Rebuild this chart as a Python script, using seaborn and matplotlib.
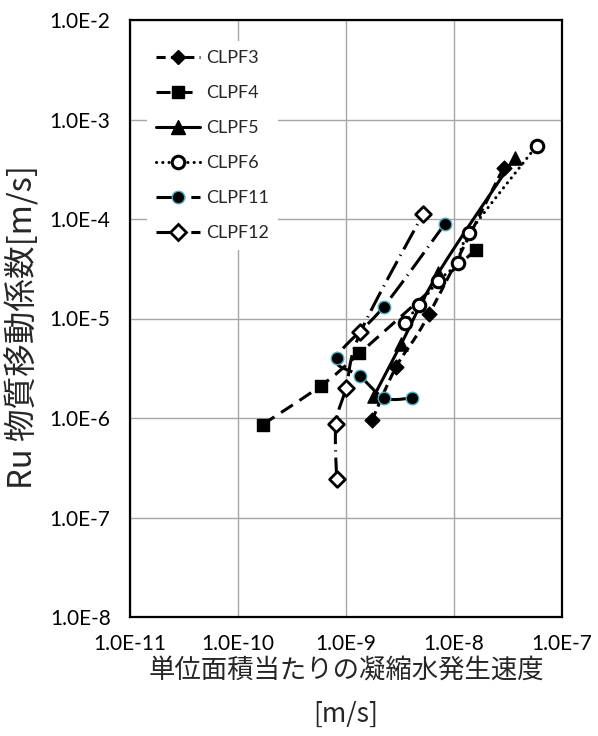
import numpy as np
import pandas as pd
import matplotlib
matplotlib.use("Agg")
import matplotlib.pyplot as plt
from matplotlib.lines import Line2D
from matplotlib.ticker import FixedLocator, FixedFormatter, NullLocator
import seaborn as sns

# ---- data -------------------------------------------------------------
series_names = ["CLPF3", "CLPF4", "CLPF5", "CLPF6", "CLPF11", "CLPF12"]

clpf3_rate = [1.75e-9, 2.92e-9, 5.91e-9, 2.88e-8]
clpf3_coef = [9.6e-7, 3.28e-6, 1.12e-5, 3.28e-4]

clpf4_rate = [1.69e-10, 5.85e-10, 1.33e-9, 1.585e-8]
clpf4_coef = [8.6e-7, 2.11e-6, 4.46e-6, 4.88e-5]

clpf5_rate = [1.82e-9, 3.25e-9, 7.18e-9, 3.66e-8]
clpf5_coef = [1.67e-6, 5.58e-6, 2.88e-5, 4.13e-4]

clpf6_rate = [3.50e-9, 4.78e-9, 7.18e-9, 1.08e-8, 1.39e-8, 5.85e-8]
clpf6_coef = [9.08e-6, 1.38e-5, 2.40e-5, 3.64e-5, 7.28e-5, 5.46e-4]

clpf11_rate = [4.09e-9, 2.27e-9, 1.35e-9, 8.25e-10, 2.24e-9, 8.2e-9]
clpf11_coef = [1.59e-6, 1.59e-6, 2.64e-6, 4.04e-6, 1.32e-5, 8.9e-5]

clpf12_rate = [8.19e-10, 8.07e-10, 1.0e-9, 1.36e-9, 5.16e-9]
clpf12_coef = [2.44e-7, 8.7e-7, 2.0e-6, 7.25e-6, 1.12e-4]

x_ticks = [1e-11, 1e-10, 1e-9, 1e-8, 1e-7]
x_tick_labels = ["1.0E-11", "1.0E-10", "1.0E-9", "1.0E-8", "1.0E-7"]
y_ticks = [1e-8, 1e-7, 1e-6, 1e-5, 1e-4, 1e-3, 1e-2]
y_tick_labels = ["1.0E-8", "1.0E-7", "1.0E-6", "1.0E-5", "1.0E-4", "1.0E-3", "1.0E-2"]

x_label = "単位面積当たりの凝縮水発生速度\n[m/s]"
y_label = "Ru 物質移動係数[m/s]"

frames = []
for name, xs, ys in zip(
    series_names,
    [clpf3_rate, clpf4_rate, clpf5_rate, clpf6_rate, clpf11_rate, clpf12_rate],
    [clpf3_coef, clpf4_coef, clpf5_coef, clpf6_coef, clpf11_coef, clpf12_coef],
):
    frames.append(pd.DataFrame({"series": name, "rate": xs, "coef": ys,
                                "order": range(len(xs))}))
df = pd.concat(frames, ignore_index=True)

# ---- styles -----------------------------------------------------------
LW = 2.2
styles = {
    "CLPF3": dict(ls=(0, (3.0, 1.7)), marker="D", ms=7.5, mfc="black", mec="black", mew=1.0),
    "CLPF4": dict(ls=(0, (4.6, 2.6)), marker="s", ms=9.0, mfc="black", mec="black", mew=1.0),
    "CLPF5": dict(ls="-", marker="^", ms=9.5, mfc="black", mec="black", mew=1.0),
    "CLPF6": dict(ls=(0, (0.05, 2.0)), marker="o", ms=9.0, mfc="white", mec="black", mew=2.2),
    "CLPF11": dict(ls=(0, (7.0, 2.0, 0.4, 2.0)), marker="o", ms=9.0, mfc="black", mec="#4bacc6", mew=1.0),
    "CLPF12": dict(ls=(0, (7.0, 2.0, 0.4, 2.0)), marker="D", ms=8.0, mfc="white", mec="black", mew=2.0),
}


def smooth_path(xs, ys, n=30):
    """Smoothed connecting curve (cubic Bezier / Catmull-Rom) in log space."""
    lx, ly = np.log10(xs), np.log10(ys)
    P = np.column_stack([lx, ly])
    if len(P) < 3:
        return xs, ys
    ext = np.vstack([P[0], P, P[-1]])
    out = []
    t = np.linspace(0, 1, n)[:, None]
    for i in range(1, len(ext) - 2):
        p0, p1, p2, p3 = ext[i - 1], ext[i], ext[i + 1], ext[i + 2]
        c1 = p1 + (p2 - p0) / 6.0
        c2 = p2 - (p3 - p1) / 6.0
        seg = ((1 - t) ** 3) * p1 + 3 * ((1 - t) ** 2) * t * c1 + 3 * (1 - t) * t ** 2 * c2 + t ** 3 * p2
        out.append(seg if i == 1 else seg[1:])
    out = np.vstack(out)
    return 10 ** out[:, 0], 10 ** out[:, 1]


# ---- figure -----------------------------------------------------------
sns.set_theme(style="white")
plt.rcParams["font.family"] = ["Lato", "Noto Sans CJK JP", "DejaVu Sans"]
plt.rcParams["lines.dash_capstyle"] = "butt"

fig = plt.figure(figsize=(5.98, 7.36), dpi=100)
ax = fig.add_axes([130 / 598, 1 - 617 / 736, 432 / 598, 597 / 736])
ax.set_xscale("log")
ax.set_yscale("log")
ax.set_xlim(1e-11, 1e-7)
ax.set_ylim(1e-8, 1e-2)

for name in series_names:
    st = styles[name]
    sub = df[df["series"] == name].sort_values("order")
    sx, sy = smooth_path(sub["rate"].to_numpy(), sub["coef"].to_numpy())
    line_cap = "round" if name == "CLPF6" else "butt"
    sns.lineplot(x=sx, y=sy, sort=False, estimator=None, ax=ax, color="black",
                 linewidth=LW, linestyle=st["ls"], dash_capstyle=line_cap,
                 solid_capstyle="round", zorder=3)
    sns.scatterplot(data=sub, x="rate", y="coef", ax=ax, marker=st["marker"],
                    s=st["ms"] ** 2, color=st["mfc"], edgecolor=st["mec"],
                    linewidth=st["mew"], zorder=4, legend=False)

ax.grid(True, which="major", color="#a6a6a6", linewidth=1.0)
ax.set_axisbelow(True)
ax.xaxis.set_major_locator(FixedLocator(x_ticks))
ax.xaxis.set_major_formatter(FixedFormatter(x_tick_labels))
ax.xaxis.set_minor_locator(NullLocator())
ax.yaxis.set_major_locator(FixedLocator(y_ticks))
ax.yaxis.set_major_formatter(FixedFormatter(y_tick_labels))
ax.yaxis.set_minor_locator(NullLocator())
ax.tick_params(axis="both", length=0, labelsize=15, colors="black")
ax.tick_params(axis="x", pad=12)
ax.tick_params(axis="y", pad=14)
for sp in ax.spines.values():
    sp.set_color("black")
    sp.set_linewidth(1.6)

ax.set_xlabel(x_label, fontsize=19, family=["Noto Sans CJK JP", "DejaVu Sans"],
              linespacing=1.85, labelpad=2)
ax.set_ylabel(y_label, fontsize=23.5, family=["Noto Sans CJK JP", "DejaVu Sans"],
              labelpad=2)
ax.yaxis.set_label_coords(-0.21, 0.485)

handles = []
for name in series_names:
    st = styles[name]
    handles.append(Line2D([], [], color="black", linewidth=LW, linestyle=st["ls"],
                          marker=st["marker"], markersize=st["ms"],
                          markerfacecolor=st["mfc"], markeredgecolor=st["mec"],
                          markeredgewidth=st["mew"],
                          dash_capstyle="round" if name == "CLPF6" else "butt"))
leg = ax.legend(handles, series_names, loc="upper left",
                bbox_to_anchor=(17 / 432, 1 - 21 / 597), borderaxespad=0,
                frameon=True, facecolor="white", edgecolor="none", framealpha=1,
                fontsize=13, handlelength=2.45, handletextpad=0.3,
                labelspacing=1.05, borderpad=0.5, fancybox=False)
leg.set_zorder(5)

fig.savefig("out.png", dpi=100, facecolor="white")
